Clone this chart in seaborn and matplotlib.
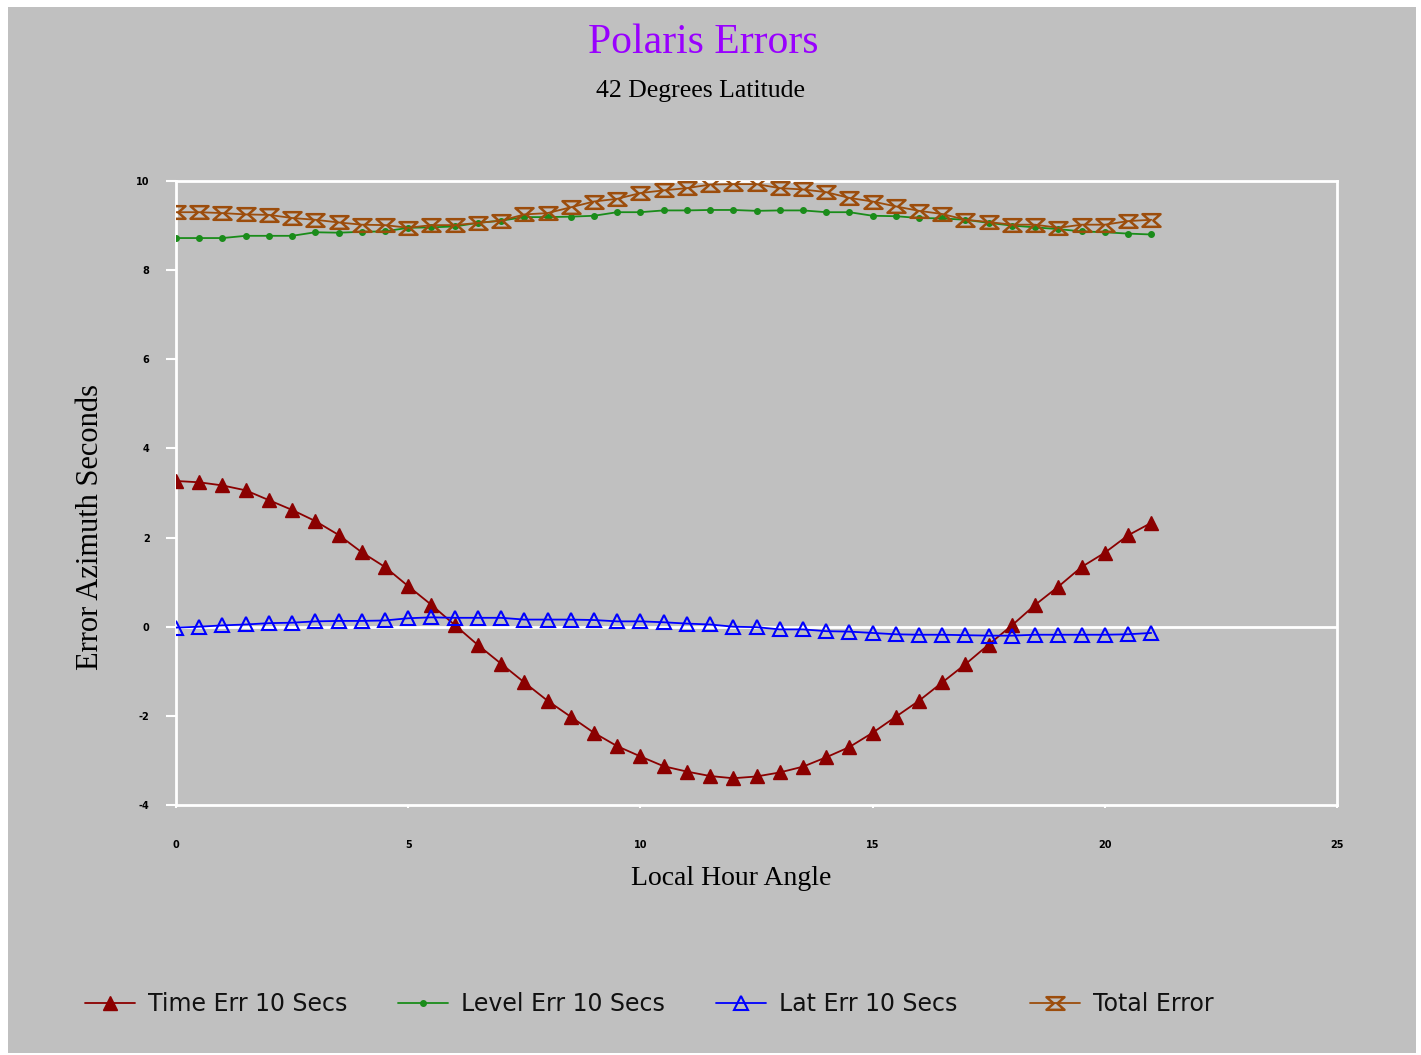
import numpy as np
import matplotlib
matplotlib.use('Agg')
import matplotlib.pyplot as plt
import pandas as pd
import seaborn as sns
from matplotlib.path import Path
from matplotlib.patches import Rectangle
from matplotlib.lines import Line2D

# local hour angle, 0..21 by 0.5
hour_angle = [0, 0.5, 1, 1.5, 2, 2.5, 3, 3.5, 4, 4.5, 5, 5.5, 6, 6.5, 7, 7.5, 8, 8.5, 9, 9.5, 10,
              10.5, 11, 11.5, 12, 12.5, 13, 13.5, 14, 14.5, 15, 15.5, 16, 16.5, 17, 17.5, 18,
              18.5, 19, 19.5, 20, 20.5, 21]

time_err = [3.27, 3.24, 3.17, 3.06, 2.84, 2.62, 2.37, 2.06, 1.67, 1.34, 0.91, 0.49, 0.04,
            -0.41, -0.83, -1.25, -1.66, -2.02, -2.38, -2.68, -2.91, -3.13, -3.25, -3.35, -3.40,
            -3.36, -3.27, -3.14, -2.93, -2.70, -2.38, -2.02, -1.66, -1.25, -0.84, -0.40, 0.03,
            0.49, 0.90, 1.34, 1.66, 2.05, 2.33]

level_err = [8.72, 8.72, 8.72, 8.77, 8.77, 8.77, 8.85, 8.84, 8.86, 8.87, 8.95, 8.96, 8.98,
             9.06, 9.11, 9.19, 9.19, 9.20, 9.22, 9.30, 9.30, 9.34, 9.34, 9.35, 9.35, 9.33,
             9.34, 9.34, 9.30, 9.30, 9.22, 9.21, 9.17, 9.16, 9.13, 9.06, 9.00, 8.96, 8.92,
             8.87, 8.85, 8.82, 8.80]

lat_err = [-0.02, 0.0, 0.03, 0.05, 0.08, 0.09, 0.12, 0.13, 0.13, 0.14, 0.19, 0.21, 0.20,
           0.20, 0.20, 0.16, 0.16, 0.16, 0.15, 0.12, 0.12, 0.10, 0.07, 0.05, 0.0, -0.01,
           -0.06, -0.06, -0.10, -0.11, -0.14, -0.17, -0.18, -0.18, -0.19, -0.20, -0.20,
           -0.18, -0.18, -0.18, -0.18, -0.17, -0.14]

total_err = [9.30, 9.30, 9.28, 9.25, 9.24, 9.17, 9.13, 9.07, 9.02, 9.01, 8.95, 9.01, 9.01,
             9.06, 9.11, 9.25, 9.28, 9.41, 9.54, 9.60, 9.73, 9.79, 9.84, 9.92, 9.93, 9.93,
             9.84, 9.81, 9.75, 9.62, 9.54, 9.43, 9.33, 9.26, 9.13, 9.08, 9.02, 9.02, 8.95,
             9.02, 9.02, 9.10, 9.13]

series_names = ['Time Err 10 Secs', 'Level Err 10 Secs', 'Lat Err 10 Secs', 'Total Error']
series_colors = ['#8b0000', '#1a8c1a', '#0000ff', '#9c4d0c']

df = pd.DataFrame({'x': hour_angle, 'Time Err 10 Secs': time_err, 'Level Err 10 Secs': level_err,
                   'Lat Err 10 Secs': lat_err, 'Total Error': total_err})

# hourglass marker for the total error series (wider than tall)
hourglass = Path([(-1, 0.7), (1, 0.7), (0.2, 0), (1, -0.7), (-1, -0.7), (-0.2, 0), (-1, 0.7)],
                 [Path.MOVETO] + [Path.LINETO] * 5 + [Path.CLOSEPOLY])

styles = {
    'Time Err 10 Secs': dict(marker='^', ms=10.5, mfc='#8b0000', mec='#8b0000', mew=1),
    'Level Err 10 Secs': dict(marker='o', ms=4, mfc='#1a8c1a', mec='#1a8c1a', mew=1),
    'Lat Err 10 Secs': dict(marker='^', ms=10, mfc='none', mec='#0000ff', mew=1.5),
    'Total Error': dict(marker=hourglass, ms=13, mfc='none', mec='#9c4d0c', mew=1.8),
}

sns.set_style('white')
plt.rcParams['axes.unicode_minus'] = False
fig = plt.figure(figsize=(14.21, 10.55), dpi=100)
fig.patch.set_facecolor('white')
fig.patches.append(Rectangle((8 / 1421, 2 / 1055), 1408 / 1421, 1046 / 1055, transform=fig.transFigure,
                             facecolor='#c0c0c0', edgecolor='none', zorder=-5))
ax = fig.add_axes([176 / 1421, 1 - 805 / 1055, (1337 - 176) / 1421, (805 - 181) / 1055])
ax.set_facecolor('#c0c0c0')

ax.axhline(0, color='white', lw=2, zorder=1)

for name, col in zip(series_names, series_colors):
    sns.lineplot(data=df, x='x', y=name, ax=ax, color=col, lw=1.3, legend=False,
                 zorder=3, **styles[name])

ax.set_xlim(0, 25)
ax.set_ylim(-4, 10)
ax.set_xticks([0, 5, 10, 15, 20, 25])
ax.set_yticks([-4, -2, 0, 2, 4, 6, 8, 10])
for s in ax.spines.values():
    s.set_color('white')
    s.set_linewidth(2)
ax.tick_params(axis='y', left=True, direction='out', length=7, width=1.5, color='white',
               labelsize=7, labelcolor='black', pad=12)
ax.tick_params(axis='x', bottom=True, direction='out', length=2, width=1.5, color='white',
               labelsize=7, labelcolor='black', pad=23)
for lab in ax.get_xticklabels() + ax.get_yticklabels():
    lab.set_fontweight('bold')

serif = ['Liberation Serif', 'DejaVu Serif']
ax.set_xlabel('Local Hour Angle', fontsize=20, family=serif, color='black')
ax.xaxis.set_label_coords((731 - 176) / 1161, -(866 - 805) / 624)
ax.set_ylabel('Error Azimuth Seconds', fontsize=22, family=serif, color='black')
ax.yaxis.set_label_coords(-(176 - 105) / 1161, (805 - 527) / 624)

fig.text(703 / 1421, 1 - 43 / 1055, 'Polaris Errors', ha='center', va='center', fontsize=30,
         color='#9900ff', family=serif)
fig.text(700 / 1421, 1 - 91 / 1055, '42 Degrees Latitude', ha='center', va='center',
         fontsize=18.5, color='black', family=serif)

# one legend entry per slot, placed like the reference
legend_x = [85, 398, 716, 1030]
for n, c, lx in zip(series_names, series_colors, legend_x):
    h = Line2D([], [], color=c, lw=1.3, **styles[n])
    fig.legend([h], [n], loc='center left', bbox_to_anchor=(lx / 1421, 1 - 1004 / 1055),
               frameon=False, handlelength=2.1, handletextpad=0.55, borderaxespad=0,
               borderpad=0, labelcolor='#111111',
               prop={'family': ['DejaVu Sans'], 'size': 17})

fig.savefig('out.png', dpi=100, facecolor=fig.get_facecolor())
